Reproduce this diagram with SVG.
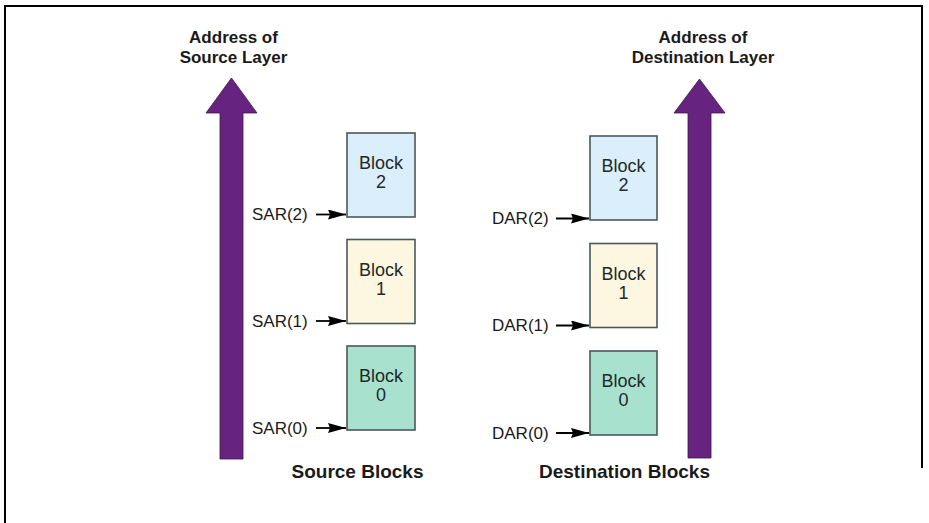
<svg xmlns="http://www.w3.org/2000/svg" width="929" height="523" viewBox="0 0 929 523">
<style>
  .frame { stroke: #000; stroke-width: 2; fill: none; }
  .axis { fill: #66237f; stroke: #3d1550; stroke-width: 0.8; }
  .title { font-family: "Liberation Sans", Arial, sans-serif; font-weight: bold; font-size: 17px; fill: #1a1a1a; text-anchor: middle; }
  .caption { font-family: "Liberation Sans", Arial, sans-serif; font-weight: bold; font-size: 19px; fill: #1a1a1a; text-anchor: middle; }
  .blk { stroke: #4b5858; stroke-width: 1.6; }
  .b2 { fill: #dbeefb; }
  .b1 { fill: #fdf6e0; }
  .b0 { fill: #a9e1cf; }
  .btext { font-family: "Liberation Sans", Arial, sans-serif; font-size: 18px; fill: #1e2a2a; text-anchor: middle; }
  .reg { font-family: "Liberation Sans", Arial, sans-serif; font-size: 17px; fill: #1a1a1a; }
  .conn { stroke: #000; stroke-width: 1.8; fill: none; marker-end: url(#ah); }
</style>
<defs>
  <marker id="ah" viewBox="0 0 18 10" refX="18" refY="5" markerWidth="18" markerHeight="10" markerUnits="userSpaceOnUse" orient="auto">
    <path d="M0,0 L18,5 L0,10 L2,5 Z" fill="#000"/>
  </marker>
</defs>
<rect x="0" y="0" width="929" height="523" fill="#fff"/>
<path class="frame" d="M5,523 L5,6 L922,6 L922,468"/>

<g id="source-axis">
  <polygon class="axis" points="220,459 220,113 206,113 231.5,78 257,113 243,113 243,459"/>
  <text class="title" x="233.5" y="43">Address of</text>
  <text class="title" x="233.5" y="63">Source Layer</text>
</g>
<g id="dest-axis">
  <polygon class="axis" points="688,458 688,113 674,113 699.5,79 725,113 711,113 711,458"/>
  <text class="title" x="703" y="43">Address of</text>
  <text class="title" x="703" y="63">Destination Layer</text>
</g>

<g id="src-block2">
  <rect class="blk b2" x="347" y="133" width="68" height="84"/>
  <text class="btext" x="381" y="169">Block</text>
  <text class="btext" x="381" y="188">2</text>
</g>
<g id="src-block1">
  <rect class="blk b1" x="347" y="239.5" width="68" height="84"/>
  <text class="btext" x="381" y="275.5">Block</text>
  <text class="btext" x="381" y="294.5">1</text>
</g>
<g id="src-block0">
  <rect class="blk b0" x="347" y="346" width="68" height="84"/>
  <text class="btext" x="381" y="382">Block</text>
  <text class="btext" x="381" y="401">0</text>
</g>

<g id="dst-block2">
  <rect class="blk b2" x="590" y="136" width="67" height="84"/>
  <text class="btext" x="623.5" y="172">Block</text>
  <text class="btext" x="623.5" y="191">2</text>
</g>
<g id="dst-block1">
  <rect class="blk b1" x="590" y="243.5" width="67" height="84"/>
  <text class="btext" x="623.5" y="279.5">Block</text>
  <text class="btext" x="623.5" y="298.5">1</text>
</g>
<g id="dst-block0">
  <rect class="blk b0" x="590" y="351" width="67" height="84"/>
  <text class="btext" x="623.5" y="387">Block</text>
  <text class="btext" x="623.5" y="406">0</text>
</g>

<g id="labels">
  <text class="reg" x="252" y="220">SAR(2)</text>
  <text class="reg" x="252" y="327">SAR(1)</text>
  <text class="reg" x="252" y="434">SAR(0)</text>
  <text class="reg" x="492" y="224">DAR(2)</text>
  <text class="reg" x="492" y="331">DAR(1)</text>
  <text class="reg" x="492" y="439">DAR(0)</text>
  <text class="caption" x="357.5" y="478">Source Blocks</text>
  <text class="caption" x="624.5" y="478">Destination Blocks</text>
</g>

<g id="connectors">
  <line class="conn" x1="316" y1="214.5" x2="346" y2="214.5"/>
  <line class="conn" x1="316" y1="321" x2="346" y2="321"/>
  <line class="conn" x1="316" y1="428" x2="346" y2="428"/>
  <line class="conn" x1="556" y1="218.5" x2="589" y2="218.5"/>
  <line class="conn" x1="556" y1="325.5" x2="589" y2="325.5"/>
  <line class="conn" x1="556" y1="433" x2="589" y2="433"/>
</g>
</svg>
